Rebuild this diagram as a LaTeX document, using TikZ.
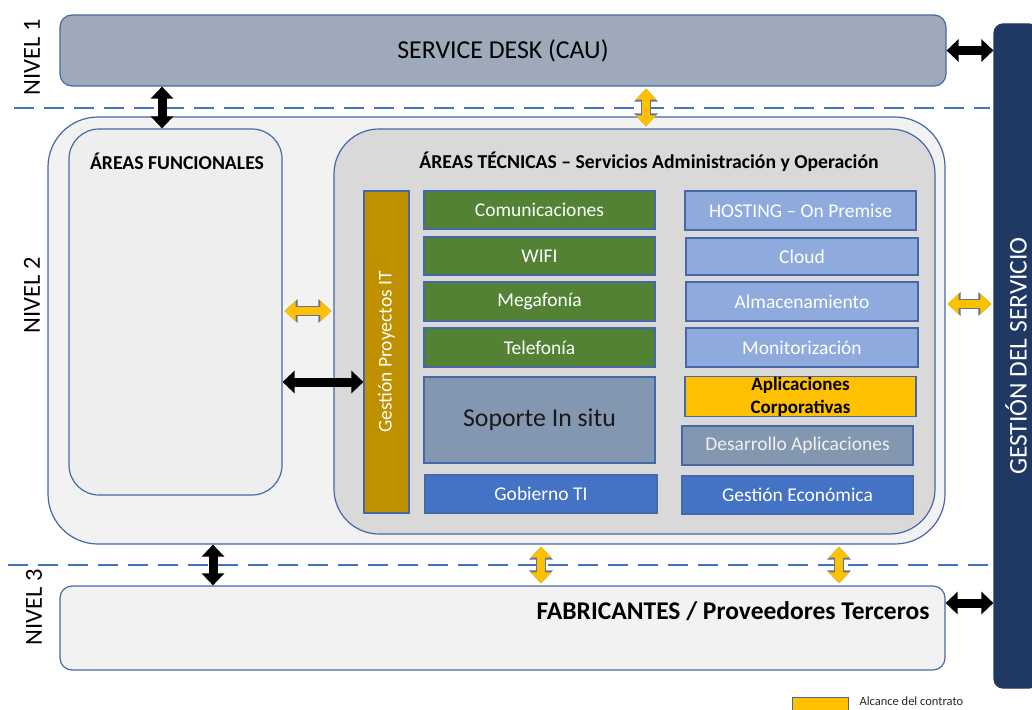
\documentclass[tikz,border=0pt]{standalone}
\usepackage{fontspec}
\setmainfont{Carlito}
\usepackage{xcolor}
\definecolor{deskgrey}{RGB}{158,169,186}
\definecolor{boxedge}{RGB}{70,104,166}
\definecolor{dashblue}{RGB}{68,114,196}
\definecolor{navy}{RGB}{32,56,100}
\definecolor{panelgrey}{RGB}{242,242,242}
\definecolor{funcgrey}{RGB}{238,238,238}
\definecolor{tecgrey}{RGB}{217,217,217}
\definecolor{ochre}{RGB}{191,144,0}
\definecolor{leafgreen}{RGB}{84,130,53}
\definecolor{slate}{RGB}{132,151,176}
\definecolor{royal}{RGB}{68,114,196}
\definecolor{skyblue}{RGB}{143,170,220}
\definecolor{alcance}{RGB}{255,192,0}
\definecolor{arrowedge}{RGB}{96,116,156}
\usetikzlibrary{positioning,arrows.meta}

\begin{document}
\begin{tikzpicture}[x=1pt, y=-1pt,
	box/.style={draw=boxedge, line width=1.2pt, inner sep=0pt},
	cell/.style={box, minimum width=231pt, minimum height=38pt, text=white, font=\fontsize{19.5}{23}\selectfont},
	nivel/.style={rotate=90, font=\fontsize{24.5}{28}\selectfont},
	ttl/.style={font=\bfseries\fontsize{19.7}{23}\selectfont},
	sepline/.style={draw=dashblue, line width=2.5pt, dash pattern=on 20pt off 10pt},
	blkarrow/.style={draw=black, line width=9pt, {Triangle[width=22pt,length=12pt]}-{Triangle[width=22pt,length=12pt]}},
	yelarrow/.style={draw=alcance, line width=8pt, shorten <=2pt, shorten >=2pt,
		{Triangle[width=20pt,length=11pt]}-{Triangle[width=20pt,length=11pt]},
		preaction={draw=arrowedge, line width=10pt, shorten <=2pt, shorten >=2pt,
			{Triangle[width=23pt,length=13pt]}-{Triangle[width=23pt,length=13pt]}}}]
	\useasboundingbox (0,0) rectangle (1032,709);
	% separators between levels
	\draw[sepline] (14,108) -- (990,108);
	\draw[sepline] (8,565) -- (990,565);
	% nivel 1
	\node[box, fill=deskgrey, rounded corners=12pt, minimum width=886pt, minimum height=71pt, font=\fontsize{25.8}{30}\selectfont] (sd) at (503,50.5) {SERVICE DESK (CAU)};
	\node[nivel] (n1) at (32,57) {NIVEL 1};
	% gestion del servicio
	\node[box, draw=navy, fill=navy, rotate=90, rounded corners=9pt, minimum width=664pt, minimum height=44pt, text=white, font=\fontsize{25.5}{30}\selectfont] (gs) at (1016,356) {GESTIÓN DEL SERVICIO};
	% nivel 2
	\node[box, fill=panelgrey, rounded corners=50pt, minimum width=897pt, minimum height=427pt] (niv2) at (496.5,330.5) {};
	\node[nivel] (n2) at (32,295) {NIVEL 2};
	\node[box, fill=funcgrey, rounded corners=30pt, minimum width=213pt, minimum height=366pt] (func) at (175.5,312) {};
	\node[ttl] (functitle) at (177,161) {ÁREAS FUNCIONALES};
	\node[box, fill=tecgrey, rounded corners=45pt, minimum width=601pt, minimum height=405pt] (tec) at (634.5,331.5) {};
	\node[ttl] (tectitle) at (649,162) {ÁREAS TÉCNICAS – Servicios Administración y Operación};
	\node[box, fill=ochre, rotate=90, minimum width=322pt, minimum height=45pt, text=white, font=\fontsize{19.5}{23}\selectfont] (gpit) at (386.5,352) {Gestión Proyectos IT};
	% left column
	\node[cell, fill=leafgreen] (com) at (539.5,210) {Comunicaciones};
	\node[cell, fill=leafgreen] (wifi) at (539.5,256) {WIFI};
	\node[cell, fill=leafgreen, minimum height=39pt] (mega) at (539.5,301.5) {Megafonía};
	\node[cell, fill=leafgreen, minimum height=39pt] (tel) at (539.5,347.5) {Telefonía};
	\node[cell, fill=slate, minimum height=86pt, text=black!90, font=\fontsize{25.8}{30}\selectfont] (sop) at (539.5,420) {Soporte In situ};
	\node[cell, fill=royal, minimum width=232pt] (gob) at (541,494) {Gobierno TI};
	% right column
	\node[cell, fill=skyblue, minimum height=39pt] (host) at (800.5,210.5) {HOSTING – On Premise};
	\node[cell, fill=skyblue, minimum width=232pt, minimum height=37pt] (cloud) at (802,256.5) {Cloud};
	\node[cell, fill=skyblue, minimum width=232pt, minimum height=39pt] (alm) at (802,301.5) {Almacenamiento};
	\node[cell, fill=skyblue, minimum width=232pt, minimum height=39pt] (mon) at (802,347.5) {Monitorización};
	\node[cell, fill=alcance, minimum height=39pt, text=black, align=center, font=\bfseries\fontsize{19}{23}\selectfont] (apl) at (800.5,396.5) {Aplicaciones\\Corporativas};
	\node[cell, fill=slate, minimum height=39pt, text=black!6] (des) at (797.5,445.5) {Desarrollo Aplicaciones};
	\node[cell, fill=royal] (gec) at (797.5,495) {Gestión Económica};
	% nivel 3
	\node[box, fill=panelgrey, rounded corners=12pt, minimum width=885pt, minimum height=84pt] (fab) at (502.5,628) {};
	\node[font=\bfseries\fontsize{25.5}{30}\selectfont, anchor=east] (fabtxt) at (933,611) {FABRICANTES / Proveedores Terceros};
	\node[nivel] (n3) at (34,607) {NIVEL 3};
	% legend
	\node[box, fill=alcance, anchor=north west, minimum width=56pt, minimum height=24pt] (leg) at (792,697) {};
	\node[anchor=west, text=black!85, font=\fontsize{12.5}{14}\selectfont] (legtxt) at (856,701.5) {Alcance del contrato};
	% connectors
	\draw[blkarrow] (162,0 |- sd.south) -- (162,0 |- func.north);
	\draw[yelarrow] (646,0 |- sd.south) -- (646,0 |- tec.north);
	\draw[blkarrow] (sd.east) -- (sd.east -| gs.north);
	\draw[yelarrow] (func.east |- 0,311) -- (tec.west |- 0,311);
	\draw[blkarrow] (func.east |- 0,382) -- (gpit.north |- 0,382);
	\draw[yelarrow] (niv2.east |- 0,304) -- (gs.north |- 0,304);
	\draw[blkarrow] (213,0 |- niv2.south) -- (213,0 |- fab.north);
	\draw[yelarrow] (541,0 |- niv2.south) -- (541,0 |- fab.north);
	\draw[yelarrow] (839,0 |- niv2.south) -- (839,0 |- fab.north);
	\draw[blkarrow] (fab.east |- 0,603) -- (gs.north |- 0,603);
\end{tikzpicture}
\end{document}
